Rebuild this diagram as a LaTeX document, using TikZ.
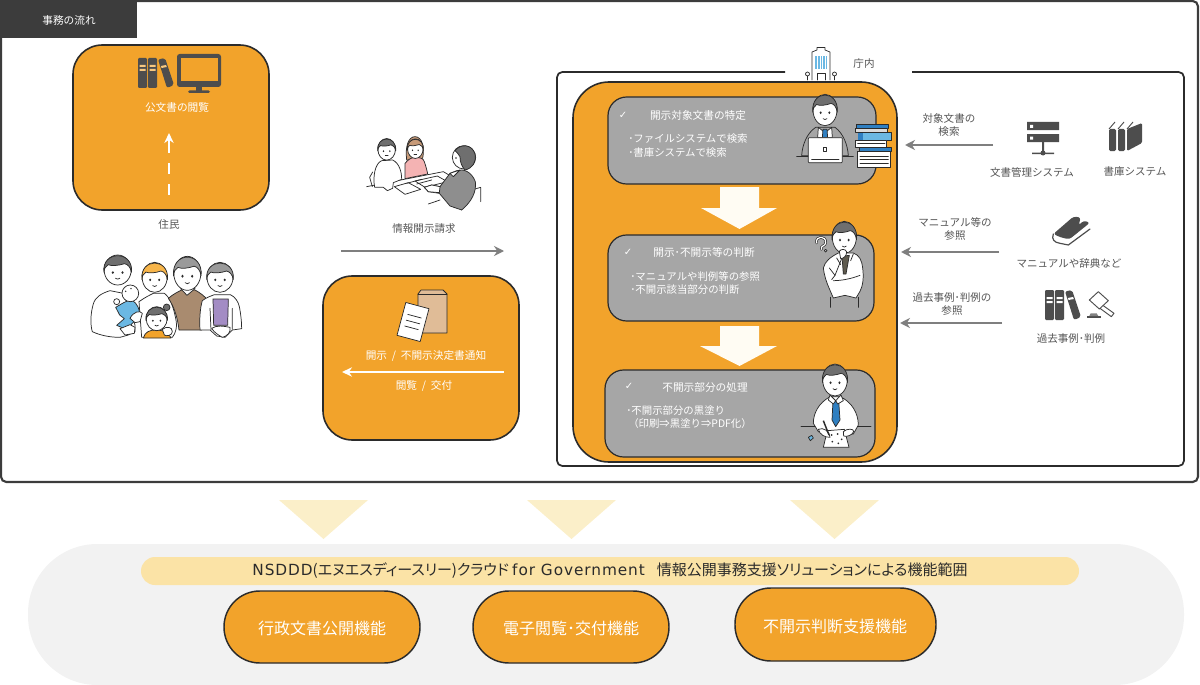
\documentclass[tikz,border=0pt]{standalone}
\usepackage{fontspec}
\usetikzlibrary{arrows.meta,calc}
\setmainfont{Noto Sans CJK JP}
\newfontfamily\symfont{DejaVu Sans}
\newfontfamily\latinwide[LetterSpace=6]{DejaVu Sans}
\newfontfamily\barfont[RawFeature=+palt]{Noto Sans CJK JP}
\definecolor{orangefill}{HTML}{F2A32B}
\definecolor{framedark}{HTML}{3C3C3C}
\definecolor{stepgray}{HTML}{A6A6A6}
\definecolor{arrowgray}{HTML}{7F7F7F}
\definecolor{labelgray}{HTML}{555555}
\definecolor{icongray}{HTML}{4D4D4D}
\definecolor{cream}{HTML}{FFFCF3}
\definecolor{palewedge}{HTML}{FBEFC9}
\definecolor{barcream}{HTML}{FBE3A6}
\definecolor{panelgray}{HTML}{F2F2F2}
\definecolor{inkline}{HTML}{2B2B2B}
\definecolor{shirtblue}{HTML}{2F7FC1}
\definecolor{babyblue}{HTML}{6BB8E3}
\definecolor{hairgray}{HTML}{6F6F6F}
\definecolor{hairlight}{HTML}{9A9A9A}
\definecolor{hairorange}{HTML}{F7B54A}
\definecolor{hairbrown}{HTML}{C79A78}
\definecolor{sweater}{HTML}{A98B6F}
\definecolor{lilac}{HTML}{A38CC4}
\definecolor{pinkshirt}{HTML}{F4B3B3}
\definecolor{suitgray}{HTML}{8E8E8E}
\definecolor{envelope}{HTML}{E0BC97}
\definecolor{tiebrown}{HTML}{5E5A4E}
\tikzset{
  x=0.75pt,y=-0.75pt,
  lab/.style={font=\fontsize{7.9}{9.75}\selectfont,text=labelgray,inner sep=0pt,align=center},
  wlab/.style={font=\fontsize{8}{9.75}\selectfont,text=white,inner sep=0pt,align=center},
  steptext/.style={font=\fontsize{7.8}{9.75}\selectfont,text=white,inner sep=0pt,align=left,anchor=west},
  tick/.style={font=\symfont\fontsize{7.5}{8}\selectfont,text=white,inner sep=0pt},
  feature/.style={font=\fontsize{12}{15}\selectfont,text=white,inner sep=0pt},
  orangebox/.style={fill=orangefill,draw=inkline,line width=1.2pt,rounded corners=22pt},
  stepbox/.style={fill=stepgray,draw=inkline,line width=0.9pt,rounded corners=14pt},
  pillbox/.style={fill=orangefill,draw=inkline,line width=1.1pt,rounded corners=26.9pt},
  grayarrow/.style={draw=arrowgray,line width=2pt,-{Stealth[length=7.5pt,width=7.5pt]}},
  whitearrow/.style={draw=white,line width=1.9pt,-{Stealth[length=7.5pt,width=7pt]}},
  ink/.style={draw=inkline,line width=0.55pt,line join=round,line cap=round},
  blockarrow/.style={fill=cream,draw=none},
  wedge/.style={fill=palewedge,draw=none},
  fineplot/.style={x=0.25pt,y=-0.25pt},
}
% A drawn head: centre x, centre y, half width, half height, hair colour
\newcommand{\facehead}[5]{%
  \begin{scope}[shift={(#1,#2)},x=#3*0.75pt,y=-#4*0.75pt]
    \filldraw[ink,fill=white] (0,0) circle[radius=1];
    \filldraw[ink,fill=#5] (-1.02,0.15) .. controls (-1.2,-1.32) and (1.2,-1.32) .. (1.02,0.15)
      .. controls (0.95,-0.2) and (0.75,-0.38) .. (0.5,-0.42)
      .. controls (0.1,-0.3) and (-0.45,-0.25) .. (-0.7,-0.35)
      .. controls (-0.9,-0.25) and (-1,-0.1) .. cycle;
    \fill[inkline] (-0.36,0.17) circle[radius=0.09] (0.36,0.17) circle[radius=0.09];
    \draw[ink] (-0.16,0.55) .. controls (-0.05,0.63) and (0.05,0.63) .. (0.16,0.55);
  \end{scope}}
% Three ring binders, the last one leaning; x, y, tab colour
\newcommand{\binderset}[3]{%
  \begin{scope}[shift={(#1,#2)}]
    \fill[icongray,rounded corners=0.9pt] (0,0) rectangle (9,30);
    \fill[icongray,rounded corners=0.9pt] (10,0) rectangle (19,30);
    \fill[icongray,rounded corners=1.5pt] (20,1.5) -- (27,0) -- (36,27) -- (29,30) -- cycle;
    \fill[#3] (1.5,7) rectangle (7.5,9) (1.5,11) rectangle (7.5,13);
    \fill[#3] (11.5,7) rectangle (17.5,9) (11.5,11) rectangle (17.5,13);
    \fill[#3] (22.8,8) -- (28,7) -- (28.8,9) -- (23.6,10) -- cycle;
  \end{scope}}
\begin{document}
\begin{tikzpicture}
\useasboundingbox (0,0) rectangle (1200,685);

% outer frame and its title tab
\draw[framedark,line width=1.6pt,rounded corners=4pt,fill=white] (1,1) rectangle (1198,482);
\fill[framedark] (0,0) rectangle (137,38);
\node[wlab] (tabtitle) at (69,20) {事務の流れ};

% document viewing box
\draw[orangebox] (73,45) rectangle (269,210);
\binderset{138}{58}{orangefill!60!white}
\fill[icongray,rounded corners=2pt] (177,54) rectangle (221,87);
\fill[orangefill] (180.5,58) rectangle (217.5,81);
\fill[icongray] (196,87) rectangle (202,91);
\fill[icongray,rounded corners=1pt] (188,90.5) rectangle (210,93);
\node[wlab] (viewing) at (177,107) {公文書の閲覧};
\coordinate (viewstart) at (169,153);
\coordinate (viewend) at (169,133);
\draw[draw=white,line width=1.9pt] (169,195) -- (169,184);
\draw[draw=white,line width=1.9pt] (169,174) -- (169,163);
\draw[whitearrow] (viewstart) -- (viewend);
\node[lab] (residents) at (169,224) {住民};

% family of residents
\begin{scope}[shift={(85,250)},fineplot]
  % father
  \filldraw[ink,fill=white] (75,122) .. controls (50,130) and (30,140) .. (24,165)
    .. controls (16,195) and (16,225) .. (22,245) .. controls (50,258) and (80,262) .. (105,262)
    -- (130,255) -- (150,245) -- (150,225) -- (115,130) -- cycle;
  % mother
  \filldraw[ink,fill=white] (162,155) .. controls (180,142) and (195,135) .. (205,130) -- (238,130)
    .. controls (255,142) and (265,170) .. (272,205) .. controls (278,230) and (272,250) .. (262,262) -- (170,262) -- cycle;
  % grandfather
  \filldraw[ink,fill=sweater] (250,145) .. controls (265,132) and (280,125) .. (290,120) -- (330,120)
    .. controls (345,128) and (358,138) .. (368,150) -- (350,240) -- (282,240)
    .. controls (278,205) and (268,170) .. (250,145) -- cycle;
  \filldraw[ink,fill=white] (287,116) -- (306,136) -- (330,116) -- (320,105) -- (295,105) -- cycle;
  % grandmother
  \filldraw[ink,fill=white] (352,152) .. controls (365,142) and (378,138) .. (388,134) -- (436,134)
    .. controls (450,140) and (460,155) .. (463,170) .. controls (468,195) and (470,220) .. (470,236)
    -- (442,240) -- (420,262) -- (395,258) -- (375,240) -- (345,240) .. controls (343,210) and (345,175) .. (352,152) -- cycle;
  \filldraw[ink,fill=lilac] (384,147) -- (430,147) -- (428,226) -- (386,226) -- cycle;
  \draw[ink] (375,175) -- (378,240) (442,175) -- (442,238);
  \facehead{98}{60}{13.5}{15}{hairgray}
  \facehead{209}{82}{12.5}{15}{hairorange}
  \facehead{307}{70}{13.5}{17}{hairlight}
  \facehead{405}{82}{13}{15}{hairlight}
  % baby in the father's arms
  \filldraw[ink,fill=babyblue] (92,172) .. controls (105,165) and (125,150) .. (140,150)
    .. controls (158,160) and (165,180) .. (164,198) -- (140,222) -- (128,240) -- (95,226) -- (118,206) -- (104,195) -- cycle;
  \filldraw[ink,fill=white] (136,130) circle[radius=25];
  \fill[inkline] (122,124) circle[radius=2.4] (138,116) circle[radius=2.4];
  \filldraw[ink,fill=white] (95,155) circle[radius=9];
  \filldraw[ink,fill=white] (135,205) .. controls (145,185) and (165,180) .. (172,190) -- (165,215) -- (150,218) -- cycle;
  \filldraw[ink,fill=white] (105,236) -- (135,224) -- (150,232) -- (148,250) -- (120,255) -- cycle;
  % child in front
  \filldraw[ink,fill=orangefill] (175,264) .. controls (180,245) and (195,240) .. (212,240)
    .. controls (235,240) and (252,248) .. (258,264) -- cycle;
  \filldraw[ink,fill=hairgray] (245,172) circle[radius=10];
  \facehead{215}{206}{10.5}{12}{hairgray}
  \filldraw[ink,fill=white] (232,238) .. controls (245,228) and (262,230) .. (262,245) .. controls (262,256) and (245,260) .. (238,255) -- cycle;
  % grandmother's folded hands
  \filldraw[ink,fill=white] (380,235) .. controls (395,225) and (415,228) .. (435,232) .. controls (440,245) and (425,260) .. (412,262) .. controls (400,255) and (388,248) .. (380,235) -- cycle;
\end{scope}

% information disclosure request
\begin{scope}[shift={(360,130)},fineplot]
  \draw[ink] (20,170) -- (250,125) -- (270,137);
  \draw[ink] (37,170) -- (29,142) -- (38,126);
  \filldraw[ink,fill=white] (44,172) .. controls (38,140) and (45,100) .. (65,92) -- (98,90)
    .. controls (118,100) and (125,125) .. (125,148) -- (100,158) -- (98,175) -- (82,182) -- (70,172) -- cycle;
  \filldraw[ink,fill=hairbrown] (140,90) .. controls (135,50) and (145,20) .. (165,20) .. controls (185,20) and (195,50) .. (188,85) -- cycle;
  \filldraw[ink,fill=pinkshirt] (135,146) -- (135,100) .. controls (145,88) and (155,82) .. (165,82)
    .. controls (180,82) and (190,85) .. (193,95) .. controls (198,110) and (202,125) .. (203,132) -- cycle;
  \facehead{80}{58}{8.8}{10.8}{hairgray}
  \facehead{166}{56}{7.8}{9.8}{hairbrown}
  \filldraw[ink,fill=white] (103,170) -- (145,158) -- (182,178) -- (135,193) -- cycle;
  \filldraw[ink,fill=white] (165,153) -- (232,138) -- (262,155) -- (195,172) -- cycle;
  \draw[ink] (170,162) -- (215,150) (140,160) -- (185,148);
  \draw[ink] (205,222) -- (240,210);
  \draw[ink] (335,180) -- (362,172) -- (362,215);
  \draw[ink] (305,240) -- (305,195);
  \filldraw[ink,fill=suitgray] (290,122) .. controls (310,115) and (335,125) .. (346,155)
    .. controls (350,185) and (335,215) .. (305,240) -- (270,228) -- (238,190) -- (205,185) -- (193,172) -- (215,165) -- (240,170) -- (270,130) -- cycle;
  \filldraw[ink,fill=white] (270,130) -- (300,120) -- (280,140) -- cycle;
  \filldraw[ink,fill=white] (193,172) -- (215,165) -- (240,170) -- (238,188) -- (205,185) -- cycle;
  \filldraw[ink,fill=white] (312,82) circle[radius=35];
  \filldraw[ink,fill=hairgray] (285,62) .. controls (300,42) and (335,40) .. (345,72)
    .. controls (350,95) and (338,115) .. (315,120) .. controls (305,110) and (300,95) .. (300,80) .. controls (295,72) and (290,66) .. (285,62) -- cycle;
  \fill[inkline] (288,84) circle[radius=2.5];
\end{scope}
\node[lab] (request) at (424,229) {情報開示請求};
\coordinate (reqstart) at (341,251);
\coordinate (reqend) at (504,251);
\draw[grayarrow] (reqstart) -- (reqend);

% notice box
\draw[orangebox] (323,276) rectangle (519,440);
\filldraw[ink,fill=envelope] (418,333) -- (418,294) -- (421,290) -- (443,290) -- (447,294) -- (447,333) -- cycle;
\draw[ink] (418,294) -- (447,294);
\begin{scope}[shift={(413,322)},rotate=-15]
  \filldraw[ink,fill=white] (-12,-17) rectangle (12,17);
  \draw[ink] (-7,-6) -- (7,-6) (-7,0) -- (7,0) (-7,6) -- (7,6);
\end{scope}
\node[wlab] (notice) at (426,356) {開示\hspace{0.45em}/\hspace{0.45em}不開示決定書通知};
\coordinate (noticestart) at (504,372);
\coordinate (noticeend) at (342,372);
\draw[whitearrow] (noticestart) -- (noticeend);
\node[wlab] (delivery) at (424,386) {閲覧\hspace{0.45em}/\hspace{0.45em}交付};

% inside the office: open frame and building mark
\draw[draw=inkline,line width=1.3pt,rounded corners=4pt] (785,72) -- (557,72) -- (557,466) -- (1184,466) -- (1184,72) -- (912,72);
\draw[orangebox,rounded corners=27pt] (573,82) rectangle (897,462);

\filldraw[ink,fill=white] (812,80) -- (812,52) -- (817,50) -- (817,47.5) -- (825,47.5) -- (825,50) -- (830,52) -- (830,80);
\fill[babyblue] (815,56) rectangle (827,69);
\foreach \gx in {817.5,820,822.5,825} \draw[white,line width=0.3pt] (\gx,56) -- (\gx,69);
\draw[ink] (817,80) -- (817,73) -- (825,73) -- (825,80);
\draw[ink] (805,81) -- (838,81) (807.5,80) -- (807.5,76) (834.5,80) -- (834.5,76);
\draw[ink] (807.5,74) circle[radius=2] (834.5,74) circle[radius=2];
\node[lab] (office) at (864,64) {庁内};

% step 1
\draw[stepbox] (608,97) rectangle (876,184);
\node[tick] (tick1) at (623,115) {✓};
\node[wlab] (step1) at (698,115) {開示対象文書の特定};
\node[steptext] (step1a) at (628,139) {･ファイルシステムで検索};
\node[steptext] (step1b) at (628,152.5) {･書庫システムで検索};
\begin{scope}[shift={(795,90)},fineplot]
  \filldraw[ink,fill=stepgray] (20,197) .. controls (22,165) and (35,130) .. (62,112) -- (120,112)
    .. controls (145,130) and (158,165) .. (160,197) -- cycle;
  \filldraw[ink,fill=white] (70,112) -- (90,128) -- (110,112) -- (112,143) -- (68,143) -- cycle;
  \filldraw[ink,fill=shirtblue] (84,118) -- (96,118) -- (98,143) -- (82,143) -- cycle;
  \facehead{90}{60}{12}{15.7}{hairgray}
  \draw[ink] (5,198) -- (175,198);
  \filldraw[ink,fill=white,rounded corners=0.6pt] (40,143) rectangle (142,218);
  \draw[ink] (50,208) -- (132,208);
  \draw[ink] (85,173) rectangle (95,183);
  \filldraw[ink,fill=shirtblue] (185,102) rectangle (280,115);
  \filldraw[ink,fill=stepgray!40!white] (180,115) rectangle (278,128);
  \filldraw[ink,fill=babyblue] (190,128) rectangle (288,150);
  \fill[shirtblue] (190,128) rectangle (205,150);
  \filldraw[ink,fill=white] (180,150) rectangle (275,172);
  \draw[ink] (188,161) -- (270,161);
  \filldraw[ink,fill=shirtblue] (192,172) rectangle (288,185);
  \filldraw[ink,fill=white] (187,185) rectangle (285,232);
  \draw[ink] (195,198) -- (280,198) (195,209) -- (280,209) (195,220) -- (280,220);
\end{scope}

% step 2
\draw[stepbox] (608,235) rectangle (874,321);
\node[tick] (tick2) at (628,252) {✓};
\node[wlab] (step2) at (704,252) {開示･不開示等の判断};
\node[steptext] (step2a) at (630,277) {･マニュアルや判例等の参照};
\node[steptext] (step2b) at (630,290) {･不開示該当部分の判断};
\begin{scope}[shift={(810,218)},fineplot]
  \draw[ink] (60,238) -- (60,268) (145,238) -- (145,268);
  \filldraw[ink,fill=white] (40,150) .. controls (45,130) and (60,118) .. (85,105) -- (130,105)
    .. controls (148,112) and (155,125) .. (158,150) .. controls (162,180) and (158,205) .. (150,220)
    -- (138,240) -- (105,232) -- (70,240) -- (58,212) .. controls (50,195) and (42,170) .. (40,150) -- cycle;
  \filldraw[ink,fill=tiebrown] (96,115) -- (118,112) -- (108,168) -- (100,168) -- cycle;
  \draw[ink] (75,172) -- (95,122) (70,188) .. controls (95,188) and (125,182) .. (150,172);
  \draw[ink] (80,120) -- (92,140) (130,108) -- (122,128) (58,150) -- (75,172) -- (65,185);
  \facehead{103}{58}{12}{16}{hairgray}
  \filldraw[ink,fill=white] (88,100) .. controls (92,92) and (108,92) .. (110,102) .. controls (110,114) and (100,122) .. (92,122) -- cycle;
  % question mark beside the head
  \draw[inkline,line width=1.9pt,line cap=round] (20,75) .. controls (15,52) and (50,52) .. (47,75) .. controls (45,85) and (32,82) .. (34,94);
  \draw[white,line width=0.9pt,line cap=round] (20,75) .. controls (15,52) and (50,52) .. (47,75) .. controls (45,85) and (32,82) .. (34,94);
  \filldraw[ink,fill=white] (47,98) circle[radius=4];
\end{scope}

% step 3
\draw[stepbox] (605,370) rectangle (875,457);
\node[tick] (tick3) at (629,386) {✓};
\node[wlab] (step3) at (705,387) {不開示部分の処理};
\node[steptext] (step3a) at (626,411) {･不開示部分の黒塗り};
\node[steptext] (step3b) at (628,423.5) {（印刷⇒黒塗り⇒PDF化）};
\begin{scope}[shift={(795,360)},fineplot]
  \draw[ink] (18,200) -- (228,200);
  \filldraw[ink,fill=white] (55,190) .. controls (55,160) and (70,130) .. (105,110) -- (135,110)
    .. controls (170,125) and (190,160) .. (190,195) -- (175,222) -- (145,225) -- (95,225) -- (70,215) -- cycle;
  \filldraw[ink,fill=shirtblue] (114,122) -- (131,122) -- (135,180) -- (122,200) -- (111,180) -- cycle;
  \filldraw[ink,fill=white] (105,105) -- (122,122) -- (138,105) -- (145,122) -- (128,132) -- (122,122) -- (115,132) -- (100,120) -- cycle;
  \facehead{120}{60}{12.3}{16}{hairgray}
  \filldraw[ink,fill=white] (97,212) -- (148,208) -- (162,262) -- (85,262) -- cycle;
  \fill[inkline] (110,225) circle[radius=2.8] (128,222) circle[radius=2.8] (140,238) circle[radius=2.8] (112,245) circle[radius=2.8] (130,250) circle[radius=2.8];
  \filldraw[ink,fill=white] (70,208) .. controls (85,200) and (105,215) .. (105,232) .. controls (90,232) and (75,225) .. (70,208) -- cycle;
  \filldraw[ink,fill=white] (145,215) .. controls (155,205) and (178,205) .. (176,215) .. controls (172,225) and (155,232) .. (146,228) -- cycle;
  \draw[inkline,line width=1.1pt] (85,182) -- (102,225);
  \filldraw[ink,fill=babyblue] (40,232) -- (50,226) -- (55,234) -- (46,242) -- cycle;
\end{scope}

% arrows between the steps
\path[blockarrow] (720,187) -- (759,187) -- (759,208) -- (777,208) -- (739.5,229) -- (701,208) -- (720,208) -- cycle;
\path[blockarrow] (720,326) -- (759,326) -- (759,346) -- (777,346) -- (739.5,366) -- (700,346) -- (720,346) -- cycle;

% reference sources on the right
\coordinate (searchstart) at (993,145);
\coordinate (searchend) at (905,145);
\draw[grayarrow] (searchstart) -- (searchend);
\node[lab] (searchlab) at (949,125.5) {対象文書の\\検索};
\coordinate (manualstart) at (999,252);
\coordinate (manualend) at (901,252);
\draw[grayarrow] (manualstart) -- (manualend);
\node[lab] (manuallab) at (955,229) {マニュアル等の\\参照};
\coordinate (casestart) at (1002,323);
\coordinate (caseend) at (900,323);
\draw[grayarrow] (casestart) -- (caseend);
\node[lab] (caselab) at (952,304) {過去事例･判例の\\参照};

% server icon
\fill[icongray] (1027,122) rectangle (1059,130) (1027,134) rectangle (1059,142);
\fill[white] (1030,125) rectangle (1033,128) (1030,136.5) rectangle (1033,139.5);
\fill[icongray] (1042,142) rectangle (1044,153) (1032,152.5) rectangle (1054,154);
\fill[icongray] (1043,153) circle[radius=2.5];
\node[lab] (dms) at (1032,172) {文書管理システム};

% shelved books icon
\fill[icongray,rounded corners=1pt] (1109,129) rectangle (1116,151) (1118,129) rectangle (1125,151);
\fill[icongray,rounded corners=1pt] (1127,129) -- (1142,123) -- (1142,143) -- (1127,151) -- cycle;
\draw[icongray,line width=0.7pt] (1109,129) -- (1115,122) (1118,129) -- (1124,122) (1127,129) -- (1133,122);
\node[lab] (archive) at (1135,172) {書庫システム};

% closed book icon
\begin{scope}[shift={(1040,210)},fineplot]
  \fill[icongray,rounded corners=2pt] (40,72) -- (100,20) -- (122,22) -- (116,46) -- (131,32) -- (150,38) -- (88,88) -- (62,82) -- cycle;
  \draw[icongray,line width=0.9pt,line cap=round] (40,72) .. controls (34,88) and (42,97) .. (60,100) -- (85,105) -- (150,57);
\end{scope}
\node[lab] (dictionary) at (1069,263) {マニュアルや辞典など};

% binders and gavel
\binderset{1045}{290}{white}
\begin{scope}[shift={(1040,210)},fineplot]
  \draw[icongray,line width=0.7pt,line join=round] (148,270) -- (175,245) -- (205,272) -- (178,297) -- cycle;
  \draw[icongray,line width=0.7pt,line join=round] (190,287) -- (222,310) -- (214,320) -- (180,295);
  \fill[icongray] (140,325) rectangle (182,318);
  \fill[icongray!70!white] (148,318) -- (152,310) -- (170,310) -- (175,318) -- cycle;
\end{scope}
\node[lab] (precedent) at (1071,339) {過去事例･判例};

% lower panel with the solution's functions
\path[wedge] (279,500) -- (368,500) -- (323.5,539) -- cycle;
\path[wedge] (527,500) -- (616,500) -- (571.5,539) -- cycle;
\path[wedge] (790,500) -- (879,500) -- (834.5,539) -- cycle;
\fill[panelgray,rounded corners=52pt] (28,544) rectangle (1184,685);
\fill[barcream,rounded corners=10.5pt] (141,557) rectangle (1079,585);
\node[font=\barfont\fontsize{11.25}{13}\selectfont,text=inkline,inner sep=0pt] (scope) at (610,571)
  {{\latinwide\fontsize{11.5}{13}\selectfont NSDDD}(エヌエスディースリー)クラウド {\latinwide\fontsize{11.5}{13}\selectfont for Government}\hspace{0.8em}情報公開事務支援ソリューションによる機能範囲};
\draw[pillbox] (224,591) rectangle (420,663);
\node[feature] (f1) at (322,628) {行政文書公開機能};
\draw[pillbox] (473,591) rectangle (669,663);
\node[feature] (f2) at (571,628) {電子閲覧･交付機能};
\draw[pillbox] (735,588) rectangle (936,661);
\node[feature] (f3) at (835,626) {不開示判断支援機能};
\end{tikzpicture}
\end{document}
